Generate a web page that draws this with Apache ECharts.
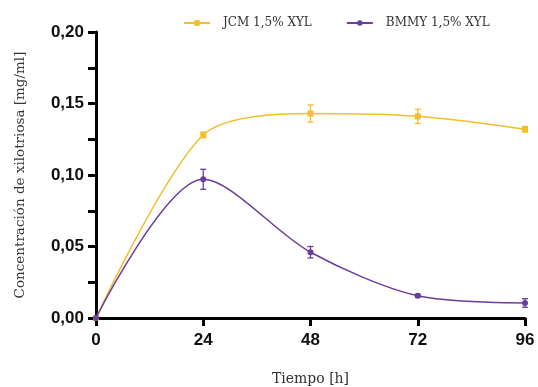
<!DOCTYPE html>
<html><head><meta charset="utf-8">
<script src="https://cdn.jsdelivr.net/npm/echarts@6/dist/echarts.min.js"></script>
<style>html,body{margin:0;padding:0;background:#fff}#c{width:538px;height:387px}</style>
</head><body><div id="c"></div>
<script>
const hours = [0, 24, 48, 72, 96];
const jcm = [0, 0.128, 0.143, 0.141, 0.132];
const jcmErr = [0, 0.002, 0.006, 0.005, 0.002];
const bmmy = [0, 0.097, 0.046, 0.0155, 0.0105];
const bmmyErr = [0, 0.007, 0.004, 0.001, 0.003];
const yTicks = [0, 0.05, 0.10, 0.15, 0.20];
const xTicks = [0, 24, 48, 72, 96];

const YEL = '#F3BE2E', PUR = '#6A3E9C';
function pts(v){ return hours.map((h,i)=>[h, v[i]]); }
function errs(v,e){ return hours.map((h,i)=>[h, v[i]-e[i], v[i]+e[i]]); }
function errSeries(name, data, color){
  return {
    type:'custom', name: name+'_err', data, z: 3, silent:true,
    renderItem(params, api){
      const x = api.value(0);
      const lo = api.coord([x, api.value(1)]);
      const hi = api.coord([x, api.value(2)]);
      const w = 3;
      const st = {stroke: color, lineWidth: 1.3};
      return {type:'group', children:[
        {type:'line', shape:{x1:lo[0],y1:lo[1],x2:hi[0],y2:hi[1]}, style:st},
        {type:'line', shape:{x1:lo[0]-w,y1:lo[1],x2:lo[0]+w,y2:lo[1]}, style:st},
        {type:'line', shape:{x1:hi[0]-w,y1:hi[1],x2:hi[0]+w,y2:hi[1]}, style:st}
      ]};
    }
  };
}
const chart = echarts.init(document.getElementById('c'));
chart.setOption({
  animation:false,
  backgroundColor:'#fff',
  grid:{left:96, right:13, top:32, bottom:69, containLabel:false, outerBoundsMode:'none'},
  legend:{
    top:12, left:178, itemGap:34, itemWidth:26, itemHeight:7,
    data:['JCM 1,5% XYL','BMMY 1,5% XYL'],
    textStyle:{fontFamily:'DejaVu Serif', fontSize:12, color:'#333', padding:[0,0,0,8]}
  },
  xAxis:{
    type:'value', min:0, max:96, interval:24,
    name:'Tiempo [h]', nameLocation:'middle', nameGap:54,
    nameTextStyle:{fontFamily:'DejaVu Serif', fontSize:14, color:'#333'},
    axisLine:{onZero:false, lineStyle:{color:'#000', width:3}},
    axisTick:{show:true, length:8, lineStyle:{color:'#000', width:3}},
    axisLabel:{fontFamily:'Liberation Sans', fontWeight:'bold', fontSize:17, color:'#111', margin:14},
    splitLine:{show:false}
  },
  yAxis:{
    type:'value', min:0, max:0.2, interval:0.05,
    name:'Concentración de xilotriosa [mg/ml]', nameLocation:'middle', nameGap:69,
    nameTextStyle:{fontFamily:'DejaVu Serif', fontSize:13.5, color:'#333'},
    axisLine:{show:true, lineStyle:{color:'#000', width:3}},
    axisTick:{show:true, length:8, lineStyle:{color:'#000', width:3}},
    minorTick:{show:true, splitNumber:2, length:8, lineStyle:{color:'#000', width:3}},
    axisLabel:{fontFamily:'Liberation Sans', fontWeight:'bold', fontSize:17, color:'#111', margin:12,
      formatter:v=>v.toFixed(2).replace('.',',')},
    splitLine:{show:false}
  },
  series:[
    {name:'JCM 1,5% XYL', type:'line', data:pts(jcm), smooth:0.28, symbol:'rect', symbolSize:6,
      itemStyle:{color:YEL}, lineStyle:{color:YEL, width:1.5}, z:4},
    errSeries('JCM', errs(jcm,jcmErr), YEL),
    {name:'BMMY 1,5% XYL', type:'line', data:pts(bmmy), smooth:0.3, symbol:'circle', symbolSize:6,
      itemStyle:{color:PUR}, lineStyle:{color:PUR, width:1.5}, z:5},
    errSeries('BMMY', errs(bmmy,bmmyErr), PUR)
  ]
});
</script></body></html>
